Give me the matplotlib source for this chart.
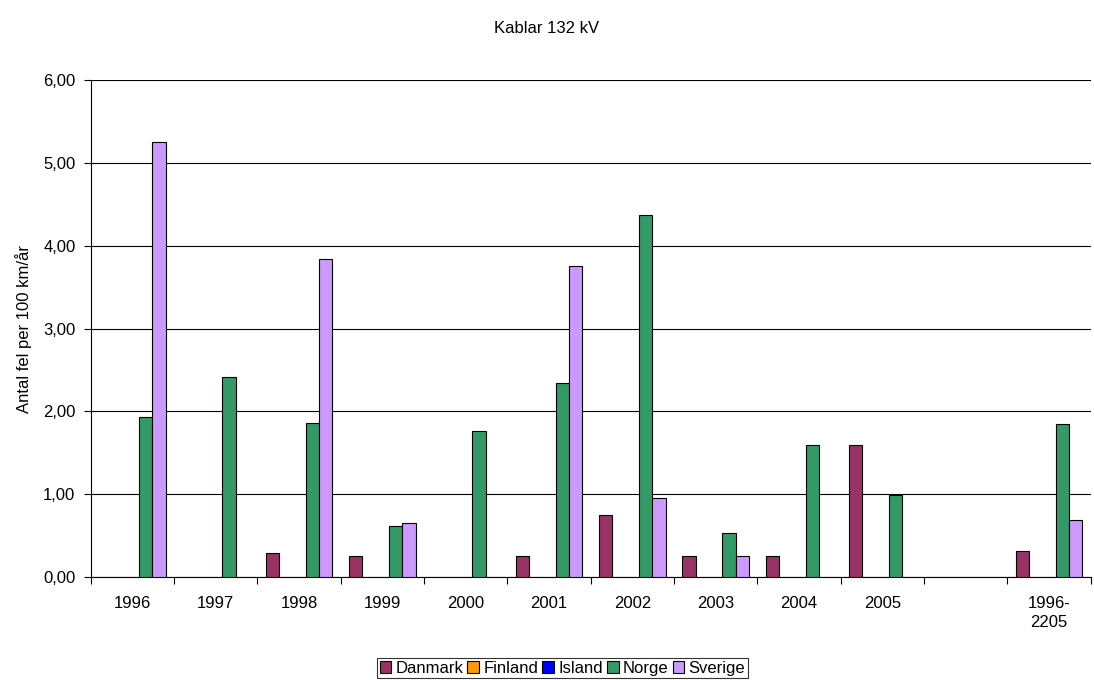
import matplotlib
matplotlib.use("Agg")
import matplotlib.pyplot as plt
import numpy as np
from matplotlib.ticker import FuncFormatter, FixedLocator

plt.rcParams['font.family'] = ['Liberation Sans', 'DejaVu Sans']

categories = ["1996", "1997", "1998", "1999", "2000", "2001", "2002", "2003",
              "2004", "2005", "", "1996-\n2205"]
series_names = ["Danmark", "Finland", "Island", "Norge", "Sverige"]
danmark = [0, 0, 0.29, 0.25, 0, 0.25, 0.75, 0.25, 0.25, 1.60, 0, 0.31]
finland = [0, 0, 0, 0, 0, 0, 0, 0, 0, 0, 0, 0]
island = [0, 0, 0, 0, 0, 0, 0, 0, 0, 0, 0, 0]
norge = [1.93, 2.42, 1.86, 0.62, 1.76, 2.34, 4.37, 0.53, 1.59, 0.99, 0, 1.85]
sverige = [5.26, 0, 3.84, 0.65, 0, 3.76, 0.95, 0.25, 0, 0, 0, 0.69]
colors = ["#993366", "#FF9900", "#0000FF", "#339966", "#CC99FF"]

data = [danmark, finland, island, norge, sverige]

FS = 12

fig = plt.figure(figsize=(10.94, 6.80), dpi=100)
ax = fig.add_axes([0.0829, 0.1515, 0.914, 0.7305])

n = len(categories)
x = np.arange(n)
bw = 0.16
for i, (name, vals, c) in enumerate(zip(series_names, data, colors)):
    offs = (i - 2) * bw
    v = np.array(vals, dtype=float)
    mask = v > 0
    ax.bar(x[mask] + offs, v[mask], width=bw, color=c, edgecolor="black",
           linewidth=0.8, zorder=3)
    ax.bar([np.nan], [np.nan], width=bw, color=c, edgecolor="black",
           linewidth=0.8, label=name)

ax.set_xlim(-0.5, n - 0.5)
ax.set_ylim(0, 6)
ax.set_yticks(np.arange(0, 6.01, 1))
ax.yaxis.set_major_formatter(FuncFormatter(lambda v, p: f"{v:.2f}".replace(".", ",")))
ax.yaxis.grid(True, color="black", linewidth=0.8, zorder=0)
ax.set_axisbelow(True)

ax.set_xticks(x)
ax.set_xticklabels(categories, fontsize=FS, linespacing=1.3)
ax.xaxis.set_minor_locator(FixedLocator(np.arange(-0.5, n, 1)))
ax.tick_params(axis="x", which="major", length=0, pad=14)
ax.tick_params(axis="x", which="minor", length=5, direction="out", width=0.8)
ax.tick_params(axis="y", length=5, direction="out", width=0.8, labelsize=FS, pad=6)

for s in ["top", "right"]:
    ax.spines[s].set_visible(False)
for s in ["left", "bottom"]:
    ax.spines[s].set_linewidth(0.8)

ax.set_ylabel("Antal fel per 100 km/år", fontsize=FS, labelpad=8)
fig.text(0.5, 0.958, "Kablar 132 kV", ha="center", va="center", fontsize=FS)

leg = fig.legend(loc="lower center", bbox_to_anchor=(0.514, 0.0), ncol=5,
                 frameon=True, fancybox=False, edgecolor="black",
                 fontsize=FS, handlelength=0.7, handleheight=0.7,
                 handletextpad=0.25, columnspacing=0.25, borderpad=0.15,
                 borderaxespad=0.1)
leg.get_frame().set_linewidth(0.8)

fig.savefig("out.png", dpi=100)
